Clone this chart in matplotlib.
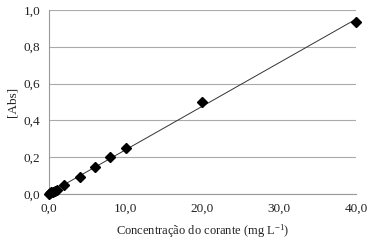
import numpy as np
import matplotlib.pyplot as plt

plt.rcParams['font.family'] = ['Liberation Serif', 'DejaVu Serif']

# concentration (mg/L) and absorbance
conc = [0.0, 0.1, 0.25, 0.5, 0.75, 1.0, 2.0, 4.0, 6.0, 8.0, 10.0, 20.0, 40.0]
absb = [0.0, 0.004, 0.008, 0.013, 0.018, 0.022, 0.05, 0.09, 0.145, 0.20, 0.25, 0.50, 0.935]
xticks = [0, 10, 20, 30, 40]
yticks = [0.0, 0.2, 0.4, 0.6, 0.8, 1.0]

fig = plt.figure(figsize=(3.7, 2.48), dpi=100)
ax = fig.add_axes([0.132, 0.218, 0.830, 0.742])

# linear trendline
p = np.polyfit(conc, absb, 1)
xx = np.array([0, 40])
ax.plot(xx, np.polyval(p, xx), '-', color='#333333', lw=0.7, zorder=2)
ax.plot(conc, absb, 'D', color='black', ms=5, zorder=3, clip_on=False)

ax.set_xlim(0, 40)
ax.set_ylim(0, 1.0)
ax.set_xticks(xticks)
ax.set_yticks(yticks)
ax.set_xticklabels([f'{v:.1f}'.replace('.', ',') for v in xticks])
ax.set_yticklabels([f'{v:.1f}'.replace('.', ',') for v in yticks])
ax.tick_params(labelsize=9.5, length=0, pad=6, colors='#222222')
ax.yaxis.grid(True, color='#aaaaaa', lw=0.8)
ax.set_axisbelow(True)
for s in ['top', 'right']:
    ax.spines[s].set_visible(False)
for s in ['left', 'bottom']:
    ax.spines[s].set_color('#999999')
    ax.spines[s].set_linewidth(0.8)

ax.set_ylabel('[Abs]', fontsize=9.5, labelpad=4)
ax.set_xlabel(r'Concentração do corante (mg L$\mathregular{^{-1}}$)', fontsize=9, labelpad=6)
ax.xaxis.label.set_color('#222222')
ax.yaxis.label.set_color('#222222')

fig.savefig('out.png', dpi=100)
